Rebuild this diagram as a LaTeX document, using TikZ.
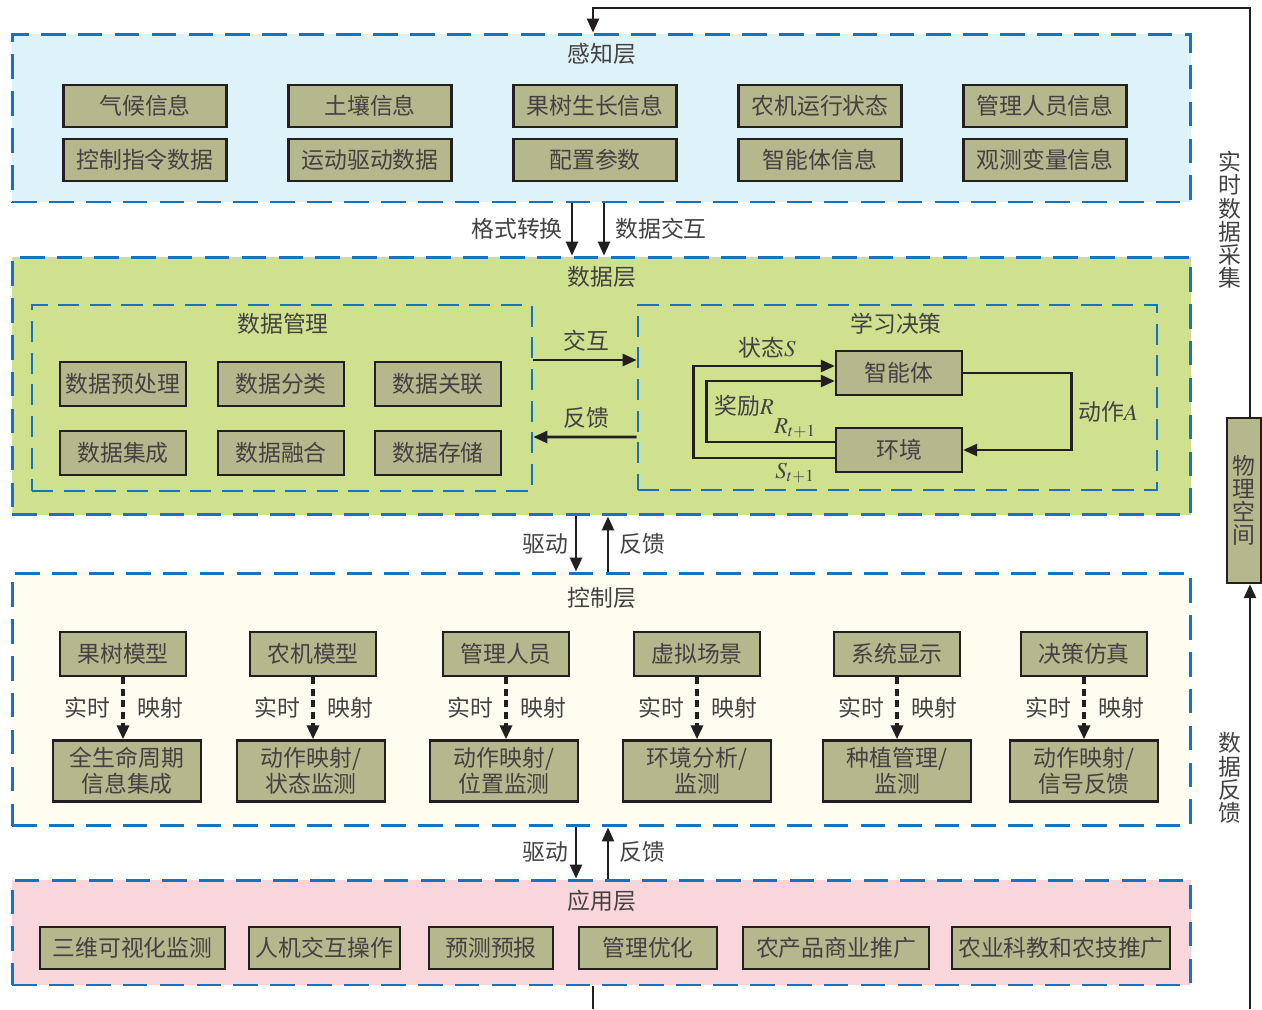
\documentclass[tikz,border=0pt]{standalone}
\usepackage{mathptmx}
\usepackage{fontspec}
\setmainfont{Noto Sans CJK SC}
\usetikzlibrary{positioning, arrows.meta, calc}
\definecolor{dashblue}{RGB}{22,115,192}
\definecolor{olivebox}{RGB}{181,183,140}
\definecolor{inkdark}{RGB}{35,31,32}
\definecolor{percfill}{RGB}{222,242,250}
\definecolor{datafill}{RGB}{207,224,143}
\definecolor{ctrlfill}{RGB}{255,253,240}
\definecolor{appfill}{RGB}{249,213,220}

\begin{document}
\begin{tikzpicture}[x=0.02cm, y=-0.02cm, font=\fontsize{13}{15}\selectfont, text=inkdark!85,
          layer/.style={draw=dashblue, line width=1.7pt, dash pattern=on 14pt off 7pt, inner sep=0pt, minimum width=23.58cm},
          part/.style={draw=dashblue, line width=1.6pt, dash pattern=on 12pt off 6pt, inner sep=0pt},
          item/.style={draw=inkdark, line width=1.4pt, fill=olivebox, inner sep=0pt, align=center},
          flow/.style={-{Triangle[length=2.8mm,width=2.4mm]}, line width=1.5pt, draw=inkdark},
          maplink/.style={flow, line width=1.9pt, dash pattern=on 4pt off 2.5pt},
          vtext/.style={align=center, font=\fontsize{13}{13.2}\selectfont}]
        \useasboundingbox (0,0) rectangle (1262,1009);
        % layers
        \node[layer, fill=percfill, minimum height=3.36cm] (perc) at (601.5,118) {};
        \node[layer, fill=datafill, minimum height=5.16cm] (data) at (601.5,386) {};
        \node[layer, fill=ctrlfill, minimum height=5.06cm] (ctrl) at (601.5,699.5) {};
        \node[layer, fill=appfill, minimum height=2.1cm] (app) at (601.5,932.5) {};
        \node (percT) at (602,54) {感知层};
        \node (dataT) at (602,277) {数据层};
        \node (ctrlT) at (602,598) {控制层};
        \node (appT) at (602,901) {应用层};
        % perception items
        \foreach \x/\a/\b [count=\i] in {145/气候信息/控制指令数据, 370/土壤信息/运动驱动数据, 595/果树生长信息/配置参数,
                                         820/农机运行状态/智能体信息, 1045/管理人员信息/观测变量信息} {
          \node[item, minimum width=3.26cm, minimum height=0.84cm] (pa\i) at (\x,106) {\a};
          \node[item, minimum width=3.26cm, minimum height=0.84cm] (pb\i) at (\x,160) {\b};
        }
        \draw[flow] ($(perc.south)+(-29.5,0)$) -- ($(data.north)+(-29.5,0)$);
        \draw[flow] ($(perc.south)+(2.5,0)$) -- ($(data.north)+(2.5,0)$);
        \node (fmt) at (517,229) {格式转换};
        \node (xchg) at (661,229) {数据交互};
        % data layer
        \node[part, minimum width=10cm, minimum height=3.72cm] (mgmt) at (282,398) {};
        \node[part, minimum width=10.38cm, minimum height=3.7cm] (learn) at (897.5,397.5) {};
        \node (mgmtT) at (283,324) {数据管理};
        \node (learnT) at (896,324) {学习决策};
        \foreach \x/\a/\b [count=\i] in {123/数据预处理/数据集成, 281/数据分类/数据融合, 438/数据关联/数据存储} {
          \node[item, minimum width=2.52cm, minimum height=0.88cm] (da\i) at (\x,384) {\a};
          \node[item, minimum width=2.52cm, minimum height=0.88cm] (db\i) at (\x,453) {\b};
        }
        \draw[flow] ($(mgmt.east)+(0,-38)$) -- ($(learn.west)+(0,-37.5)$);
        \draw[flow] ($(learn.west)+(0,39.5)$) -- ($(mgmt.east)+(0,39)$);
        \node (inter) at (586,341) {交互};
        \node (fb1) at (586,418) {反馈};
        \node[item, minimum width=2.52cm, minimum height=0.88cm] (agent) at (899,373) {智能体};
        \node[item, minimum width=2.52cm, minimum height=0.88cm] (env) at (899,450) {环境};
        \draw[flow] ($(env.west)+(0,8)$) -| ($(agent.west)+(-141,-7)$) -- ($(agent.west)+(0,-7)$);
        \draw[flow] ($(env.west)+(0,-8)$) -| ($(agent.west)+(-128,8)$) -- ($(agent.west)+(0,8)$);
        \draw[flow] (agent.east) -- ++(108,0) |- (env.east);
        \node (stateS) at (767,348) {状态$S$};
        \node (rewR) at (744,406) {奖励$R$};
        \node (rnext) at (795,428) {$R_{t+1}$};
        \node (snext) at (795,473) {$S_{t+1}$};
        \node (actA) at (1108,412) {动作$A$};
        % data <-> control
        \draw[flow] ($(data.south)+(-25.5,0)$) -- ($(ctrl.north)+(-25.5,0)$);
        \draw[flow] ($(ctrl.north)+(6.5,0)$) -- ($(data.south)+(6.5,0)$);
        \node (drv1) at (545,544) {驱动};
        \node (fb2) at (642,544) {反馈};
        % control layer
        \foreach \x/\y/\a/\b [count=\i] in {123/127/果树模型/{全生命周期\\信息集成}, 313/311/农机模型/{动作映射/\\状态监测},
                                            506/504/管理人员/{动作映射/\\位置监测}, 697/697/虚拟场景/{环境分析/\\监测},
                                            897/897/系统显示/{种植管理/\\监测}, 1084/1084/决策仿真/{动作映射/\\信号反馈}} {
          \node[item, minimum width=2.52cm, minimum height=0.88cm] (ct\i) at (\x,654) {\a};
          \node[item, minimum width=2.96cm, minimum height=1.22cm] (cb\i) at (\y,771) {\b};
          \draw[maplink] (ct\i.south) -- (ct\i.south |- cb\i.north);
          \node (rt\i) at (\x-36,708) {实时};
          \node (ys\i) at (\x+37,708) {映射};
        }
        % control <-> application
        \draw[flow] ($(ctrl.south)+(-25.5,0)$) -- ($(app.north)+(-25.5,0)$);
        \draw[flow] ($(app.north)+(6.5,0)$) -- ($(ctrl.south)+(6.5,0)$);
        \node (drv2) at (545,852) {驱动};
        \node (fb3) at (642,852) {反馈};
        % application items
        \foreach \x/\w/\a [count=\i] in {132.5/3.7/三维可视化监测, 324.5/3.02/人机交互操作, 491/2.48/预测预报,
                                         648/2.76/管理优化, 836/3.72/农产品商业推广, 1061/4.36/农业科教和农技推广} {
          \node[item, minimum width=\w cm, minimum height=0.84cm] (ap\i) at (\x,948) {\a};
        }
        % physical space loop
        \node[item, minimum width=0.68cm, minimum height=3.3cm, vtext] (phys) at (1244,500.5) {物\\理\\空\\间};
        \coordinate (tr) at (1250,8);
        \coordinate (tl) at (593,8);
        \coordinate (bl) at (593,1009);
        \coordinate (br) at (1250,1009);
        \draw[flow] (phys.north -| tr) -- (tr) -- (tl) -- (tl |- perc.north);
        \draw[flow] (br) -- (br |- phys.south);
        \draw[line width=1.5pt, draw=inkdark] (app.south -| bl) -- (bl);
        \node[vtext] (collect) at (1230,220) {实\\时\\数\\据\\采\\集};
        \node[vtext] (feedback) at (1230,778) {数\\据\\反\\馈};
      \end{tikzpicture}
\end{document}
